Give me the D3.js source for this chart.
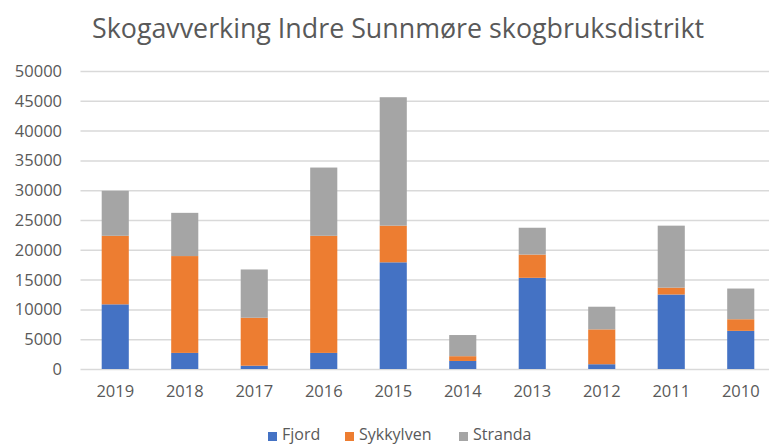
<!DOCTYPE html>
<html lang="no">
<head>
<meta charset="utf-8">
<title>Skogavverking</title>
<script src="https://cdn.jsdelivr.net/npm/d3@7"></script>
<style>
  body { margin: 0; background: #fff; }
  text { font-family: "Open Sans", sans-serif; fill: #595959; }
  .grid line { stroke: #d9d9d9; stroke-width: 1.5; }
  .grid path { display: none; }
</style>
</head>
<body>
<script>
// data
var years = ["2019", "2018", "2017", "2016", "2015", "2014", "2013", "2012", "2011", "2010"];
var fjord = [10850, 2700, 550, 2700, 17900, 1350, 15300, 800, 12500, 6400];
var sykkylven = [11500, 16250, 8050, 19650, 6150, 800, 3900, 5850, 1150, 1950];
var stranda = [7550, 7250, 8100, 11450, 21550, 3550, 4500, 3800, 10400, 5150];
var seriesNames = ["Fjord", "Sykkylven", "Stranda"];
var colors = ["#4472c4", "#ed7d31", "#a5a5a5"];
var yTicks = [0, 5000, 10000, 15000, 20000, 25000, 30000, 35000, 40000, 45000, 50000];

var w = 769, h = 445;
var x0 = 80.5, x1 = 775.5; // plot runs a bit past right edge
var yTop = 71, yBottom = 369;

var rows = years.map(function(y, i) {
  return { year: y, Fjord: fjord[i], Sykkylven: sykkylven[i], Stranda: stranda[i] };
});
var stack = d3.stack().keys(seriesNames)(rows);

var x = d3.scaleBand().domain(years).range([x0, x1]).paddingInner(0.61).paddingOuter(0.305);
var y = d3.scaleLinear().domain([0, 50000]).range([yBottom, yTop]);

var svg = d3.select("body").append("svg").attr("width", w).attr("height", h);

// gridlines
svg.append("g").attr("class", "grid")
  .attr("transform", "translate(" + x0 + ",0)")
  .call(d3.axisLeft(y).tickValues(yTicks).tickSize(-(w - x0 + 5)).tickFormat(""));

// y labels
svg.append("g").selectAll("text").data(yTicks).enter().append("text")
  .attr("x", 62)
  .attr("y", function(d) { return y(d) + 6; })
  .attr("text-anchor", "end")
  .attr("font-size", "16.5px")
  .text(function(d) { return d; });

// bars
svg.append("g").selectAll("g").data(stack).enter().append("g")
  .attr("fill", function(d, i) { return colors[i]; })
  .selectAll("rect").data(function(d) { return d; }).enter().append("rect")
  .attr("x", function(d) { return x(d.data.year); })
  .attr("width", x.bandwidth())
  .attr("y", function(d) { return y(d[1]); })
  .attr("height", function(d) { return y(d[0]) - y(d[1]); });

// x labels
svg.append("g").selectAll("text").data(years).enter().append("text")
  .attr("x", function(d) { return x(d) + x.bandwidth() / 2; })
  .attr("y", 397)
  .attr("text-anchor", "middle")
  .attr("font-size", "16.5px")
  .text(function(d) { return d; });

// title
svg.append("text")
  .attr("x", 398).attr("y", 38)
  .attr("text-anchor", "middle")
  .attr("font-size", "26.8px")
  .text("Skogavverking Indre Sunnmøre skogbruksdistrikt");

// legend
var legX = [268, 345, 459];
var leg = svg.append("g").selectAll("g").data(seriesNames).enter().append("g")
  .attr("transform", function(d, i) { return "translate(" + legX[i] + ",0)"; });
leg.append("rect").attr("y", 432).attr("width", 9).attr("height", 9)
  .attr("fill", function(d, i) { return colors[i]; });
leg.append("text").attr("x", 14).attr("y", 440)
  .attr("font-size", "16px")
  .text(function(d) { return d; });
</script>
</body>
</html>
